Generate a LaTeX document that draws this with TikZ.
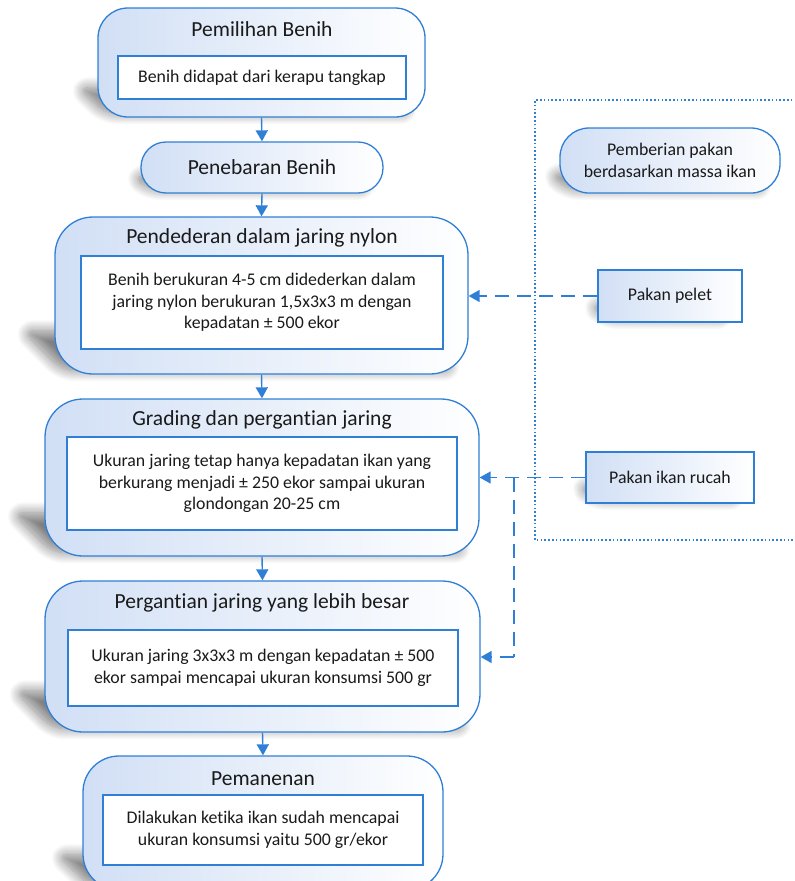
\documentclass[tikz,border=0pt]{standalone}
\usepackage{fontspec}
\setmainfont{Carlito}[Ligatures=NoCommon]
\usetikzlibrary{arrows.meta,shadows.blur,calc}
\pgfdeclarelayer{bg}
\pgfsetlayers{bg,main}
\definecolor{bblue}{HTML}{2F7FD6}
\definecolor{fblue}{HTML}{D1DFF5}
\definecolor{txt}{HTML}{1A1A1A}
\tikzset{
  outerbox/.style={draw=bblue, line width=1.3pt, left color=fblue, right color=white,
    rounded corners=#1, inner sep=0pt},
  outerbox/.default=32pt,
  innerbox/.style={draw=bblue, line width=1.3pt, fill=white, inner sep=0pt, align=center,
    text=txt, font=\fontsize{17.8}{21.5}\selectfont},
  sidebox/.style={draw=bblue, line width=1.3pt, left color=fblue, right color=white, inner sep=0pt,
    align=center, text=txt, font=\fontsize{17.8}{21.5}\selectfont},
  titletext/.style={text=txt, font=\fontsize{21.5}{26}\selectfont, inner sep=0pt},
  solidarrow/.style={draw=bblue, line width=1.4pt, -{Triangle[length=11pt,width=12pt]}},
  dasharrow/.style={draw=bblue, line width=1.4pt, dash pattern=on 14pt off 8pt, -{Triangle[length=11pt,width=12pt]}},
  dashline/.style={draw=bblue, line width=1.4pt, dash pattern=on 14pt off 8pt},
  softshadow/.style={draw=none, fill=none, rounded corners=12pt,
    blur shadow={shadow xshift=0pt, shadow yshift=0pt, shadow opacity=#1, shadow blur radius=11pt, shadow blur steps=14}},
  softshadow/.default=50,
}
% #1 node, #2 shadow height, #3 slant offset
\newcommand{\boxshadow}[3]{%
  \begin{pgfonlayer}{bg}
  \path[softshadow] ($(#1.south west)+(8,-4)$) -- ($(#1.south east)+(-14,-4)$)
     -- ($(#1.south east)+(-14-#3,-#2)$) -- ($(#1.south west)+(8-#3,-#2)$) -- cycle;
  \end{pgfonlayer}}
\begin{document}
\begin{tikzpicture}[x=1pt,y=-1pt]
\useasboundingbox (0,0) rectangle (795,881);

% dotted region
\coordinate (dA) at (800,100);
\coordinate (dB) at (535,100);
\coordinate (dC) at (535,540);
\coordinate (dD) at (800,540);
\draw[bblue, line width=1.4pt, dash pattern=on 1.6pt off 2.2pt] (dA) -- (dB) -- (dC) -- (dD);

% box 1
\node[outerbox=30pt, minimum width=327pt, minimum height=109pt] (b1) at (261.5,62.5) {};
\node[titletext] (t1) at (262,29) {Pemilihan Benih};
\node[innerbox, minimum width=288pt, minimum height=43pt] (i1) at (262,77.5) {Benih didapat dari kerapu tangkap};

% box 2
\node[outerbox=25pt, minimum width=242pt, minimum height=51pt, titletext, draw=bblue] (b2) at (262,167.5) {Penebaran Benih};

% box 3
\node[outerbox=38pt, minimum width=413pt, minimum height=157pt] (b3) at (261.5,295.5) {};
\node[titletext] (t3) at (262,238) {Pendederan dalam jaring nylon};
\node[innerbox, minimum width=362pt, minimum height=93pt] (i3) at (262,302.5) {Benih berukuran 4-5 cm didederkan dalam\\jaring nylon berukuran 1,5x3x3 m dengan\\kepadatan ± 500 ekor};

% box 4
\node[outerbox=38pt, minimum width=434pt, minimum height=157pt] (b4) at (262,477.5) {};
\node[titletext] (t4) at (262,420) {Grading dan pergantian jaring};
\node[innerbox, minimum width=390pt, minimum height=93pt] (i4) at (262,483.5) {Ukuran jaring tetap hanya kepadatan ikan yang\\berkurang menjadi ± 250 ekor sampai ukuran\\glondongan 20-25 cm};

% box 5
\node[outerbox=38pt, minimum width=435pt, minimum height=151pt] (b5) at (262.5,656.5) {};
\node[titletext] (t5) at (262,603) {Pergantian jaring yang lebih besar};
\node[innerbox, minimum width=390pt, minimum height=76pt] (i5) at (263,668) {Ukuran jaring 3x3x3 m dengan kepadatan ± 500\\ekor sampai mencapai ukuran konsumsi 500 gr};

% box 6
\node[outerbox=36pt, minimum width=360pt, minimum height=134pt] (b6) at (263,823) {};
\node[titletext] (t6) at (263,779) {Pemanenan};
\node[innerbox, minimum width=320pt, minimum height=70pt] (i6) at (263,830) {Dilakukan ketika ikan sudah mencapai\\ukuran konsumsi yaitu 500 gr/ekor};

% side boxes
\node[sidebox, rounded corners=29pt, minimum width=220pt, minimum height=65pt] (pp) at (670,160.5) {Pemberian pakan\\berdasarkan massa ikan};
\node[sidebox, minimum width=144pt, minimum height=52pt] (pel) at (670,296) {Pakan pelet};
\node[sidebox, minimum width=168pt, minimum height=51pt] (ruc) at (670,477.5) {Pakan ikan rucah};

% shadows
\boxshadow{b1}{30}{28}
\boxshadow{b2}{18}{16}
\boxshadow{b3}{44}{40}
\boxshadow{b4}{44}{40}
\boxshadow{b5}{42}{38}
\boxshadow{b6}{36}{34}
\boxshadow{pp}{20}{18}
\boxshadow{pel}{18}{16}
\boxshadow{ruc}{18}{16}

% solid arrows
\draw[solidarrow] (b1.south) -- (b2.north);
\draw[solidarrow] (b2.south) -- (b3.north);
\draw[solidarrow] (b3.south) -- (b4.north);
\draw[solidarrow] (b4.south) -- (b5.north);
\draw[solidarrow] (b5.south) -- (b6.north);

% dashed arrows
\draw[dasharrow] (pel.west) -- (pel.west -| b3.east);
\draw[dasharrow] (ruc.west) -- (ruc.west -| b4.east);
\coordinate (br1) at (514,477.5);
\coordinate (br2) at (514,657);
\draw[dashline] (br1) -- (br2);
\draw[dasharrow] (br2) -- (br2 -| b5.east);
\end{tikzpicture}
\end{document}
